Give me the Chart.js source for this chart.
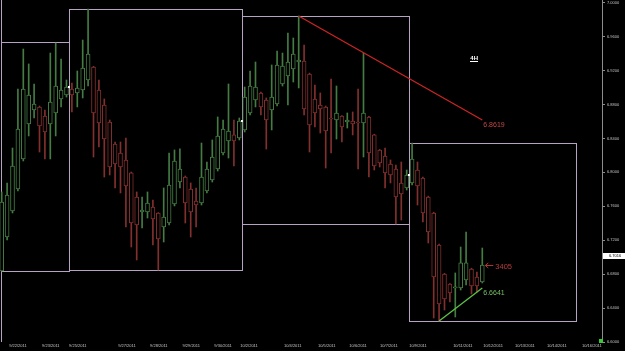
<!DOCTYPE html>
<html><head><meta charset="utf-8">
<script src="https://cdn.jsdelivr.net/npm/chart.js@4.4.0/dist/chart.umd.min.js"></script>
<style>html,body{margin:0;padding:0;background:#000;overflow:hidden}#wrap{width:625px;height:351px;position:relative}</style>
</head><body><div id="wrap"><canvas id="c" width="625" height="351"></canvas></div>
<script>
// ---- data (4H candles) ----
const opens = [6.6837,6.7238,6.7545,6.7804,6.8158,6.8570,6.8735,6.8771,6.8664,6.8570,
6.8700,6.8865,6.8912,6.8983,6.8936,6.8971,6.9089,6.9242,6.8971,6.8794,
6.8594,6.8334,6.8228,6.8146,6.7993,6.7710,6.7533,6.7533,6.7592,6.7521,
6.7356,6.7403,6.7627,6.7886,6.7945,6.7804,6.7662,6.7639,6.7780,6.7910,
6.8040,6.8228,6.8370,6.8441,6.8405,6.8500,6.8700,6.8853,6.8936,6.8853,
6.8735,6.8806,6.9042,6.9136,6.9219,6.9301,6.9313,6.9160,6.8865,6.8794,
6.8771,6.8641,6.8617,6.8664,6.8594,6.8606,6.8594,6.8582,6.8653,6.8441,
6.8264,6.8193,6.8099,6.8040,6.7875,6.7816,6.7875,6.8028,6.7934,6.7710,
6.7521,6.7144,6.6802,6.6684,6.6637,6.6637,6.6731,6.6861,6.6766,6.6708];
const highs = [6.7769,6.7875,6.8287,6.8983,6.9454,6.9278,6.9042,6.8782,6.8735,6.9407,
6.9525,6.9336,6.9089,6.9054,6.9195,6.9560,6.9926,6.9250,6.9089,6.8865,
6.8617,6.8358,6.8358,6.8405,6.8004,6.7769,6.7710,6.7769,6.7674,6.7525,
6.7816,6.8228,6.8264,6.8276,6.7957,6.7875,6.7816,6.8346,6.8122,6.8382,
6.8653,6.8617,6.9042,6.8617,6.8641,6.9006,6.9195,6.9301,6.8947,6.8877,
6.9266,6.9431,6.9407,6.9643,6.9584,6.9843,6.9502,6.9170,6.9030,6.8936,
6.8782,6.9101,6.9018,6.8670,6.8700,6.8712,6.8983,6.9407,6.8660,6.8450,
6.8270,6.8287,6.8146,6.8087,6.8122,6.8028,6.8346,6.8122,6.7945,6.7720,
6.7530,6.7155,6.6810,6.6690,6.6814,6.7120,6.7297,6.6870,6.6825,6.7108];
const lows = [6.6837,6.7203,6.7521,6.7780,6.8134,6.8429,6.8641,6.8240,6.8158,6.8158,
6.8429,6.8771,6.8888,6.8712,6.8771,6.8877,6.9018,6.8181,6.8299,6.7945,
6.7969,6.7816,6.7757,6.7356,6.7120,6.6967,6.7344,6.7462,6.7144,6.6849,
6.7179,6.7380,6.7604,6.7816,6.7403,6.7238,6.7356,6.7615,6.7757,6.7886,
6.8016,6.8205,6.8169,6.8075,6.8382,6.8476,6.8676,6.8771,6.8676,6.8275,
6.8500,6.8782,6.9018,6.8794,6.9065,6.8995,6.8676,6.8240,6.8535,6.8464,
6.8051,6.8228,6.8393,6.8358,6.8523,6.8441,6.8040,6.8181,6.7945,6.8028,
6.8063,6.7816,6.7875,6.7391,6.7438,6.7792,6.7851,6.7615,6.7415,6.7167,
6.6283,6.6248,6.6377,6.6472,6.6295,6.6613,6.6672,6.6566,6.6590,6.6696];
const closes = [6.7651,6.7733,6.8075,6.8511,6.8983,6.8912,6.8806,6.8547,6.8476,6.8830,
6.9018,6.8971,6.9006,6.8912,6.8995,6.9230,6.9395,6.8700,6.8582,6.8393,
6.8063,6.8099,6.8063,6.7839,6.7403,6.7380,6.7556,6.7639,6.7450,6.7214,
6.7474,6.7851,6.8134,6.8040,6.7639,6.7533,6.7615,6.7945,6.8040,6.8181,
6.8429,6.8511,6.8488,6.8370,6.8606,6.8888,6.9018,6.9006,6.8771,6.8617,
6.8888,6.9266,6.9254,6.9301,6.9395,6.9325,6.8747,6.8558,6.8700,6.8747,
6.8488,6.8629,6.8700,6.8535,6.8617,6.8570,6.8582,6.8700,6.8228,6.8075,
6.8110,6.7993,6.7969,6.7710,6.7745,6.7969,6.8158,6.7839,6.7521,6.7297,
6.6766,6.6448,6.6507,6.6578,6.6649,6.6932,6.6932,6.6660,6.6660,6.6908];

const dateLabels = ["9/22/2011","9/23/2011","9/25/2011","9/27/2011","9/28/2011","9/29/2011","9/30/2011","10/2/2011","10/4/2011",
"10/5/2011","10/6/2011","10/7/2011","10/9/2011","10/11/2011","10/12/2011","10/13/2011","10/14/2011","10/16/2011"];
const datePositions = [3.0,9.1,14.1,23.2,29.1,35.1,41.0,45.8,53.9,60.2,66.0,71.7,77.1,85.4,91.0,96.9,102.8,109.3];
const priceTicks = [6.60,6.64,6.68,6.72,6.76,6.80,6.84,6.88,6.92,6.96,7.00];
const currentPrice = 6.7016;

// weekly range boxes: [startIndex, endIndex, low, high]
const boxStart = [-6, -0.13, 12.52, 44.44, 75.48];
const boxEnd   = [-0.13, 12.52, 44.44, 75.48, 106.35];
const boxLow   = [6.60, 6.6841, 6.6849, 6.7391, 6.6248];
const boxHigh  = [7.02, 6.9533, 6.9922, 6.9843, 6.8350];
// week-open markers
const markIdx = [12.52, 44.44, 75.48];
const markPrice = [6.9010, 6.8609, 6.7969];
// trend lines [x0, y0, x1, y1] and their labels
const redLine = [55, 6.9843, 89, 6.8617];
const redLabel = "6.8619";
const greenLine = [81, 6.6248, 89, 6.6637];
const greenLabel = "6.6641";
const arrowLabel = "3405";
const tfLabel = "4H";
const tfPos = [87.5, 6.9348];

// ---- styles ----
const UP = '#447c42', DOWN = '#82302e', BOX = '#b8a2c4';
const FONT = '"Liberation Sans", Arial, sans-serif';
const candleCol = closes.map((c, i) => c >= opens[i] ? UP : DOWN);

const overlay = {
  id: 'overlay',
  beforeDatasetsDraw(chart) {
    const {ctx, chartArea: a, scales: {x, y}} = chart;
    ctx.save();
    ctx.beginPath(); ctx.rect(a.left, a.top, a.right - a.left, a.bottom - a.top); ctx.clip();
    ctx.strokeStyle = BOX; ctx.lineWidth = 1;
    for (let k = 0; k < boxStart.length; k++) {
      const x0 = Math.round(x.getPixelForValue(boxStart[k])) + 0.5;
      const x1 = Math.round(x.getPixelForValue(boxEnd[k])) + 0.5;
      const y0 = Math.round(y.getPixelForValue(boxHigh[k])) + 0.5;
      const y1 = Math.round(y.getPixelForValue(boxLow[k])) + 0.5;
      ctx.strokeRect(x0, y0, x1 - x0, y1 - y0);
    }
    ctx.restore();
  },
  afterDatasetsDraw(chart) {
    const {ctx, chartArea: a, scales: {x, y}} = chart;
    ctx.save();
    ctx.beginPath(); ctx.rect(a.left, a.top, a.right - a.left, a.bottom - a.top); ctx.clip();
    ctx.fillStyle = '#ffffff';
    markIdx.forEach((m, k) => {
      const px = x.getPixelForValue(m), py = y.getPixelForValue(markPrice[k]);
      ctx.fillRect(Math.round(px) - 1, Math.round(py) - 1, 2, 2);
    });
    const line = (L, col) => {
      ctx.strokeStyle = col; ctx.lineWidth = 1.3;
      ctx.beginPath();
      ctx.moveTo(x.getPixelForValue(L[0]), y.getPixelForValue(L[1]));
      ctx.lineTo(x.getPixelForValue(L[2]), y.getPixelForValue(L[3]));
      ctx.stroke();
    };
    line(redLine, '#cc2424');
    line(greenLine, '#5ec246');
    ctx.font = '7px ' + FONT; ctx.textBaseline = 'top'; ctx.textAlign = 'left';
    ctx.fillStyle = '#c24848';
    ctx.fillText(redLabel, x.getPixelForValue(redLine[2]) + 1, y.getPixelForValue(redLine[3]) + 2);
    ctx.fillStyle = '#78c068';
    ctx.fillText(greenLabel, x.getPixelForValue(greenLine[2]) + 1, y.getPixelForValue(greenLine[3]) + 2);
    const lx = x.getPixelForValue(opens.length - 1), ly = y.getPixelForValue(closes[closes.length - 1]);
    ctx.strokeStyle = '#b03838'; ctx.lineWidth = 1;
    ctx.beginPath();
    ctx.moveTo(lx + 3, ly + 0.5); ctx.lineTo(lx + 11, ly + 0.5);
    ctx.moveTo(lx + 3, ly + 0.5); ctx.lineTo(lx + 6, ly - 2);
    ctx.moveTo(lx + 3, ly + 0.5); ctx.lineTo(lx + 6, ly + 3);
    ctx.stroke();
    ctx.fillStyle = '#b83c3c'; ctx.font = '7.5px ' + FONT; ctx.textBaseline = 'middle';
    ctx.fillText(arrowLabel, lx + 13, ly + 2);
    ctx.fillStyle = '#ffffff'; ctx.font = 'bold 6px ' + FONT; ctx.textAlign = 'center';
    const tx = x.getPixelForValue(tfPos[0]), ty = y.getPixelForValue(tfPos[1]);
    ctx.fillText(tfLabel, tx, ty);
    const tw = ctx.measureText(tfLabel).width;
    ctx.fillRect(Math.round(tx - tw / 2), Math.round(ty + 3), Math.ceil(tw), 1);
    ctx.restore();
  },
  afterDraw(chart) {
    const {ctx, chartArea: a, scales: {y}} = chart;
    ctx.save();
    const py = y.getPixelForValue(currentPrice);
    ctx.fillStyle = '#ffffff';
    ctx.fillRect(a.right + 1, Math.round(py) - 3, 22, 6);
    ctx.fillStyle = '#000000'; ctx.font = '4px ' + FONT;
    ctx.textBaseline = 'middle'; ctx.textAlign = 'left';
    ctx.fillText(currentPrice.toFixed(4), a.right + 7, py);
    ctx.fillStyle = '#33cc33';
    ctx.fillRect(a.right - 3, a.bottom - 3, 4, 4);
    ctx.restore();
  }
};

new Chart(document.getElementById('c'), {
  type: 'bar',
  data: {
    datasets: [
      {
        label: 'wick', order: 2, grouped: false,
        data: highs.map((h, i) => ({x: i, y: [lows[i], h]})),
        backgroundColor: candleCol, borderWidth: 0, barThickness: 1
      },
      {
        label: 'body', order: 1, grouped: false,
        data: opens.map((o, i) => ({x: i, y: [o, closes[i]]})),
        backgroundColor: '#000000', borderColor: candleCol, borderWidth: 1,
        borderSkipped: false, barThickness: 4
      }
    ]
  },
  options: {
    responsive: false, animation: false, devicePixelRatio: 1,
    layout: {padding: 0},
    plugins: {legend: {display: false}, tooltip: {enabled: false}},
    scales: {
      x: {
        type: 'linear', position: 'bottom', min: -0.315, max: 111.17, offset: false,
        grid: {display: false, drawTicks: false, offset: false}, border: {display: false},
        afterBuildTicks: s => { s.ticks = datePositions.map(v => ({value: v})); },
        afterFit: s => { s.height = 9; s.paddingLeft = 0; s.paddingRight = 0; },
        ticks: {
          autoSkip: false, maxRotation: 0, minRotation: 0, padding: 1,
          color: '#c4c4c4', font: {size: 4, family: FONT},
          callback: (v, i) => dateLabels[i]
        }
      },
      y: {
        type: 'linear', position: 'right', min: 6.6, max: 7.0032,
        grid: {display: true, drawOnChartArea: false, drawTicks: true, tickLength: 3, color: '#8c8c8c'},
        border: {display: true, color: '#8c8c8c'},
        afterBuildTicks: s => { s.ticks = priceTicks.map(v => ({value: v})); },
        afterFit: s => { s.width = 23; s.paddingTop = 0; s.paddingBottom = 0; },
        ticks: {
          padding: 2, color: '#c4c4c4', font: {size: 4, family: FONT},
          callback: v => Number(v).toFixed(4)
        }
      }
    }
  },
  plugins: [overlay]
});
</script></body></html>
